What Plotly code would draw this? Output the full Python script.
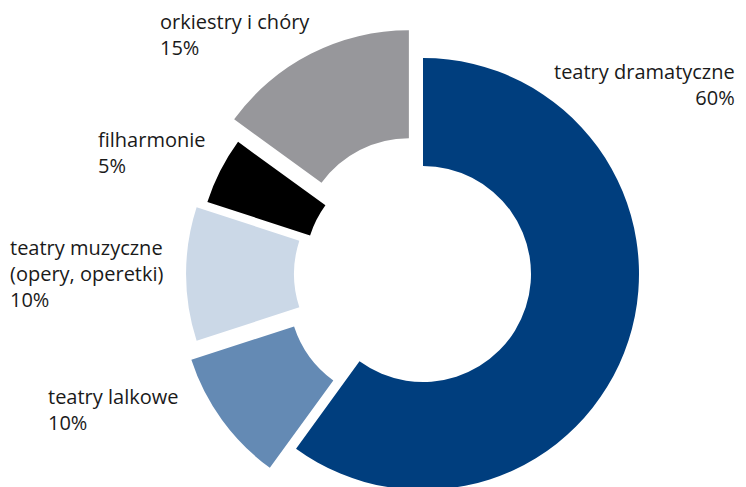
import plotly.graph_objects as go

labels = ["teatry dramatyczne", "teatry lalkowe", "teatry muzyczne<br>(opery, operetki)",
          "filharmonie", "orkiestry i chóry"]
values = [60, 10, 10, 5, 15]
pulls = [0, 0.15, 0.097, 0.053, 0.144]
colors = ["#003e7e", "#648ab4", "#cbd8e7", "#000000", "#97979b"]

# page has an 8px body margin, so figure coords are shifted by -8
W, H = 746, 548
cx, cy, R = 415, 266, 216
half = R * (1 + max(pulls))

fig = go.Figure(go.Pie(
    labels=labels, values=values, pull=pulls, hole=0.5,
    sort=False, direction="clockwise", rotation=0,
    marker=dict(colors=colors, line=dict(width=0)),
    textinfo="none", hoverinfo="skip",
    domain=dict(x=[(cx - half) / W, (cx + half) / W],
                y=[(H - cy - half) / H, (H - cy + half) / H]),
))

# label positions (figure px from top-left) and alignment
label_pos = [(729, 48, "right"), (38, 373, "left"), (0, 224, "left"),
             (88, 116, "left"), (150, -2, "left")]
for lab, val, (x, y, al) in zip(labels, values, label_pos):
    fig.add_annotation(
        x=x / W, y=1 - y / H, xref="paper", yref="paper",
        xanchor=al, yanchor="top", align=al, showarrow=False,
        text=f"{lab}<br>{val}%",
        font=dict(family="Open Sans", size=20, color="#1a1a1a"),
    )

fig.update_layout(
    width=W, height=H, margin=dict(l=0, r=0, t=0, b=0),
    showlegend=False, paper_bgcolor="white", plot_bgcolor="white",
)

fig.write_html("out.html")
